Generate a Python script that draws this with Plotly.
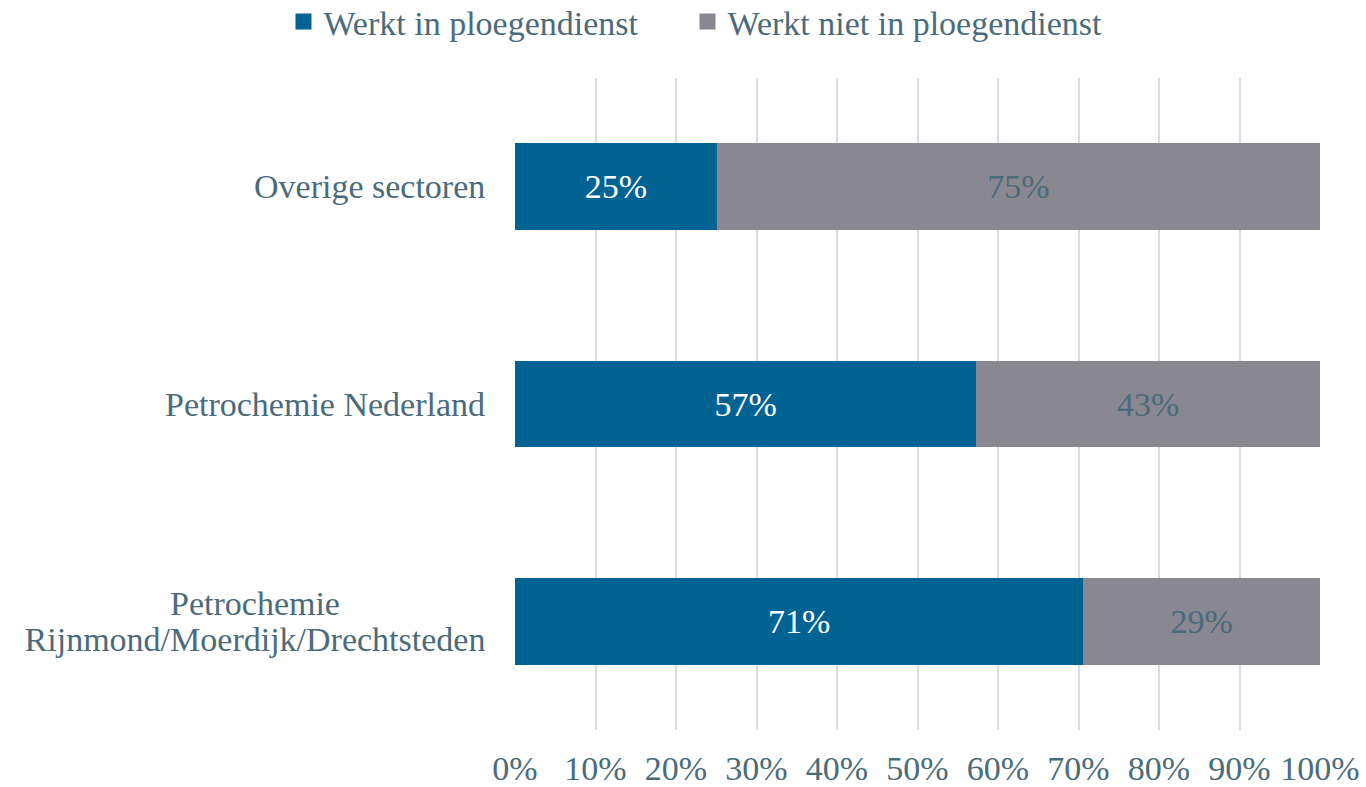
import plotly.graph_objects as go

categories = ["Petrochemie<br>Rijnmond/Moerdijk/Drechtsteden", "Petrochemie Nederland", "Overige sectoren"]
ploeg = [70.6, 57.3, 25.1]
niet_ploeg = [29.4, 42.7, 74.9]
series_names = ["Werkt in ploegendienst", "Werkt niet in ploegendienst"]
tick_vals = [0, 10, 20, 30, 40, 50, 60, 70, 80, 90, 100]
tick_text = [f"{v}%" for v in tick_vals]

FONT = "Liberation Serif"
FS = 34
TXT = "#4B6B7B"
BLUE = "#006394"
GREY = "#898791"

fig = go.Figure()
fig.add_trace(go.Bar(
    y=categories, x=ploeg, orientation="h", name=series_names[0], showlegend=False,
    marker=dict(color=BLUE, line=dict(width=0)),
    text=[f"{round(v)}%" for v in ploeg], textposition="inside", insidetextanchor="middle",
    textfont=dict(color="white", size=FS, family=FONT),
))
fig.add_trace(go.Bar(
    y=categories, x=niet_ploeg, orientation="h", name=series_names[1], showlegend=False,
    marker=dict(color=GREY, line=dict(width=0)),
    text=[f"{round(v)}%" for v in niet_ploeg], textposition="inside", insidetextanchor="middle",
    textfont=dict(color=TXT, size=FS, family=FONT),
))
# legend entries (square swatches), one legend box per entry for exact spacing
for nm, col, lg in zip(series_names, [BLUE, GREY], ["legend", "legend2"]):
    fig.add_trace(go.Scatter(x=[None], y=[None], mode="markers", name=nm, showlegend=True,
                             legend=lg, marker=dict(symbol="square", size=16, color=col)))

# category labels (centered multi-line like the original)
for c in categories:
    lines = c.split("<br>")
    if len(lines) == 1:
        fig.add_annotation(x=0, xref="paper", y=c, yref="y", text=c, showarrow=False,
                           xanchor="right", xshift=-28, align="right",
                           font=dict(family=FONT, size=FS, color=TXT))
    else:
        n = len(lines)
        for i, ln in enumerate(lines):
            fig.add_annotation(x=0, xref="paper", y=c, yref="y", text=ln, showarrow=False,
                               xanchor="right", xshift=-26, align="center", width=464,
                               yshift=((n - 1) / 2 - i) * 36,
                               font=dict(family=FONT, size=FS, color=TXT))

legend_common = dict(orientation="h", xref="paper", xanchor="left",
                     y=1.086, yref="paper", yanchor="middle",
                     font=dict(family=FONT, size=FS, color=TXT),
                     itemwidth=30, itemsizing="trace", bgcolor="rgba(0,0,0,0)")

fig.update_layout(
    barmode="stack", bargap=0.6,
    width=1366, height=787,
    margin=dict(l=515, r=46, t=78, b=57, autoexpand=False),
    paper_bgcolor="white", plot_bgcolor="white",
    font=dict(family=FONT, size=FS, color=TXT),
    showlegend=True,
    legend=dict(x=-0.2876, **legend_common),
    legend2=dict(x=0.2143, **legend_common),
)
fig.update_xaxes(range=[0, 100], tickvals=tick_vals, ticktext=tick_text,
                 showgrid=True, gridcolor="#D5DEE5", gridwidth=1.5, automargin=False,
                 zeroline=False, showline=False, ticks="", ticklabelstandoff=15,
                 tickfont=dict(family=FONT, size=FS, color=TXT))
fig.update_yaxes(showticklabels=False, showgrid=False, zeroline=False, showline=False,
                 automargin=False)

fig.write_html("out.html", config={"displayModeBar": False},
               post_script="document.body.style.margin='0px';")
